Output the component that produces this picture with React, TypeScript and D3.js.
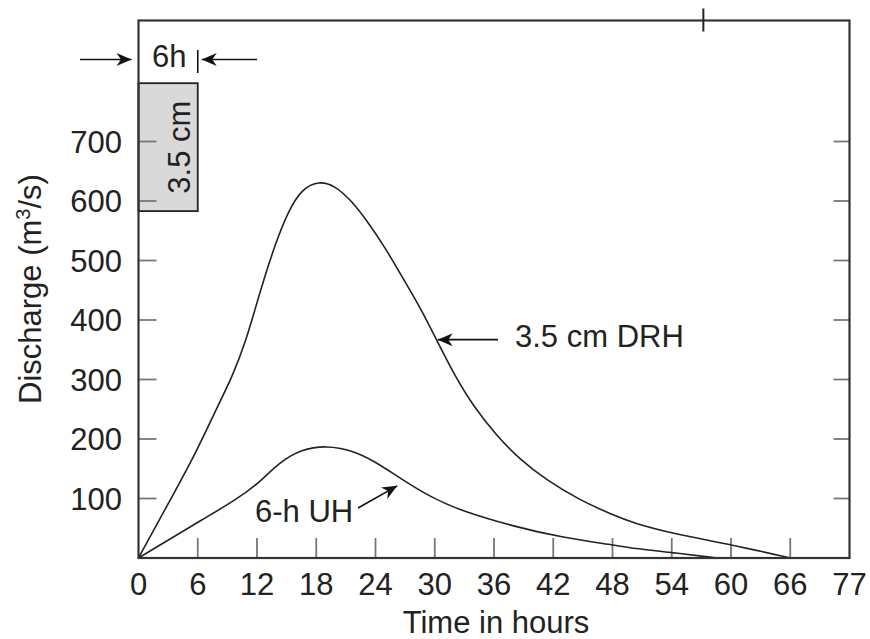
import React from "react";
import * as d3 from "d3";

// ---- data ----
const drhHours = [0, 3, 5.8, 8.1, 9.5, 10.8, 11.8, 12.8, 13.9, 15.2, 16.5, 18.2, 19.9, 21.6, 23.3, 25, 26.5, 28.5, 30.2, 31.9, 33.9, 36.3, 38.6, 41.3, 44.7, 48.1, 50.1, 54.1, 60.2, 66];
const drhValues = [0, 91, 176, 258, 305, 361, 418, 474, 530, 584, 619, 634, 626, 600, 563, 521, 478, 422, 366, 310, 255, 205, 166, 131, 97, 72, 59, 41, 22, 0];

const uhHours = [0, 3, 6.4, 9.8, 12.2, 14.2, 16.5, 19.1, 21.6, 23.8, 26.5, 29.7, 32.9, 38, 43, 48.1, 50.1, 54.1, 58.6];
const uhValues = [0, 30, 64, 97, 126, 160, 183, 189, 181, 164, 134, 101, 78, 53, 34, 22, 16, 9, 0];

const xTickValues = [0, 6, 12, 18, 24, 30, 36, 42, 48, 54, 60, 66, 72];
const xTickLabels = ["0", "6", "12", "18", "24", "30", "36", "42", "48", "54", "60", "66", "77"];
const yTickValues = [100, 200, 300, 400, 500, 600, 700];
const yTickLabels = ["100", "200", "300", "400", "500", "600", "700"];

// rainfall block (6 h of 3.5 cm), drawn against the discharge scale
const rainHours = [0, 6];
const rainBlockValues = [583, 798];
const rainLabel = "3.5 cm";
const durationLabel = "6h";
const drhLabel = "3.5 cm DRH";
const uhLabel = "6-h UH";
const topMarkHour = 57.2;

const W = 870;
const H = 639;
const FONT = "'Liberation Sans', Arial, Helvetica, sans-serif";

export default function App() {
  const x = d3.scaleLinear().domain([0, 72]).range([138.5, 849.5]);
  const y = d3.scaleLinear().domain([0, 700]).range([558, 141.5]);
  const top = 20.5;
  const bottom = y(0);
  const left = x(0);
  const right = x(72);

  const line = d3
    .line<[number, number]>()
    .x((d) => x(d[0]))
    .y((d) => y(d[1]))
    .curve(d3.curveBasis);

  const drh = line(drhHours.map((h, i) => [h, drhValues[i]] as [number, number])) || "";
  const uh = line(uhHours.map((h, i) => [h, uhValues[i]] as [number, number])) || "";

  const tickColor = "#777";
  const fs = 31;

  const drhTip: [number, number] = [x(30.1) + 2, y(367)];
  const uhTip: [number, number] = [x(26.2), y(128) + 4];

  return (
    <svg
      width={W}
      height={H}
      style={{ position: "absolute", left: 0, top: 0, background: "#fff" }}
      fontFamily={FONT}
    >
      <defs>
        <marker
          id="ah"
          viewBox="-16 -8 18 16"
          refX={0}
          refY={0}
          markerWidth={18}
          markerHeight={16}
          markerUnits="userSpaceOnUse"
          orient="auto"
        >
          <path d="M0,0 L-15,-6.5 L-10.5,0 L-15,6.5 Z" fill="#111" />
        </marker>
      </defs>

      {/* rainfall block */}
      <rect
        x={x(rainHours[0])}
        y={y(rainBlockValues[1])}
        width={x(rainHours[1]) - x(rainHours[0])}
        height={y(rainBlockValues[0]) - y(rainBlockValues[1])}
        fill="#d9d9d9"
        stroke="#222"
        strokeWidth={1.8}
      />
      <text
        transform={`translate(${(x(rainHours[0]) + x(rainHours[1])) / 2 + 22},${(y(rainBlockValues[0]) + y(rainBlockValues[1])) / 2}) rotate(-90)`}
        textAnchor="middle"
        fontSize={fs}
        fill="#222"
      >
        {rainLabel}
      </text>

      {/* left / right y ticks */}
      {yTickValues.map((v) => (
        <g key={"yt" + v}>
          <line x1={left} x2={left + 18} y1={y(v)} y2={y(v)} stroke={tickColor} strokeWidth={1.8} />
          <line x1={right - 16} x2={right} y1={y(v)} y2={y(v)} stroke={tickColor} strokeWidth={1.8} />
        </g>
      ))}
      {/* bottom x ticks */}
      {xTickValues.slice(1, -1).map((v) => (
        <line key={"xt" + v} x1={x(v)} x2={x(v)} y1={bottom} y2={bottom - 20} stroke={tickColor} strokeWidth={1.8} />
      ))}

      {/* curves */}
      <path d={drh} fill="none" stroke="#222" strokeWidth={1.6} />
      <path d={uh} fill="none" stroke="#222" strokeWidth={1.6} />

      {/* frame */}
      <rect x={left} y={top} width={right - left} height={bottom - top} fill="none" stroke="#333" strokeWidth={2.2} />
      <line x1={x(topMarkHour)} x2={x(topMarkHour)} y1={top - 12} y2={top + 11} stroke="#222" strokeWidth={2} />

      {/* y tick labels */}
      {yTickValues.map((v, i) => (
        <text key={"yl" + v} x={122} y={y(v)} dy="0.36em" textAnchor="end" fontSize={fs} fill="#222">
          {yTickLabels[i]}
        </text>
      ))}
      {/* x tick labels */}
      {xTickValues.map((v, i) => (
        <text key={"xl" + v} x={x(v)} y={595} textAnchor="middle" fontSize={fs} fill="#222">
          {xTickLabels[i]}
        </text>
      ))}

      {/* axis titles */}
      <text x={496} y={633} textAnchor="middle" fontSize={fs} fill="#222">
        Time in hours
      </text>
      <text transform={`translate(41,${y(452)}) rotate(-90)`} textAnchor="middle" fontSize={fs} fill="#222">
        Discharge (m<tspan dy="-11" fontSize={20}>3</tspan>
        <tspan dy="11">/s)</tspan>
      </text>

      {/* duration annotation */}
      <line x1={80} x2={left - 7} y1={59.5} y2={59.5} stroke="#111" strokeWidth={1.6} markerEnd="url(#ah)" />
      <line x1={257} x2={x(rainHours[1]) + 4} y1={59.5} y2={59.5} stroke="#111" strokeWidth={1.6} markerEnd="url(#ah)" />
      <line x1={x(rainHours[1])} x2={x(rainHours[1])} y1={50} y2={73} stroke="#111" strokeWidth={1.6} />
      <text x={152} y={66.5} fontSize={fs} fill="#222">
        {durationLabel}
      </text>

      {/* DRH label */}
      <line x1={498} x2={drhTip[0]} y1={drhTip[1]} y2={drhTip[1]} stroke="#111" strokeWidth={1.6} markerEnd="url(#ah)" />
      <text x={515} y={347} fontSize={fs} fill="#222">
        {drhLabel}
      </text>

      {/* UH label */}
      <line x1={358} y1={508} x2={uhTip[0]} y2={uhTip[1]} stroke="#111" strokeWidth={1.6} markerEnd="url(#ah)" />
      <text x={255} y={521.5} fontSize={fs} fill="#222">
        {uhLabel}
      </text>
    </svg>
  );
}
